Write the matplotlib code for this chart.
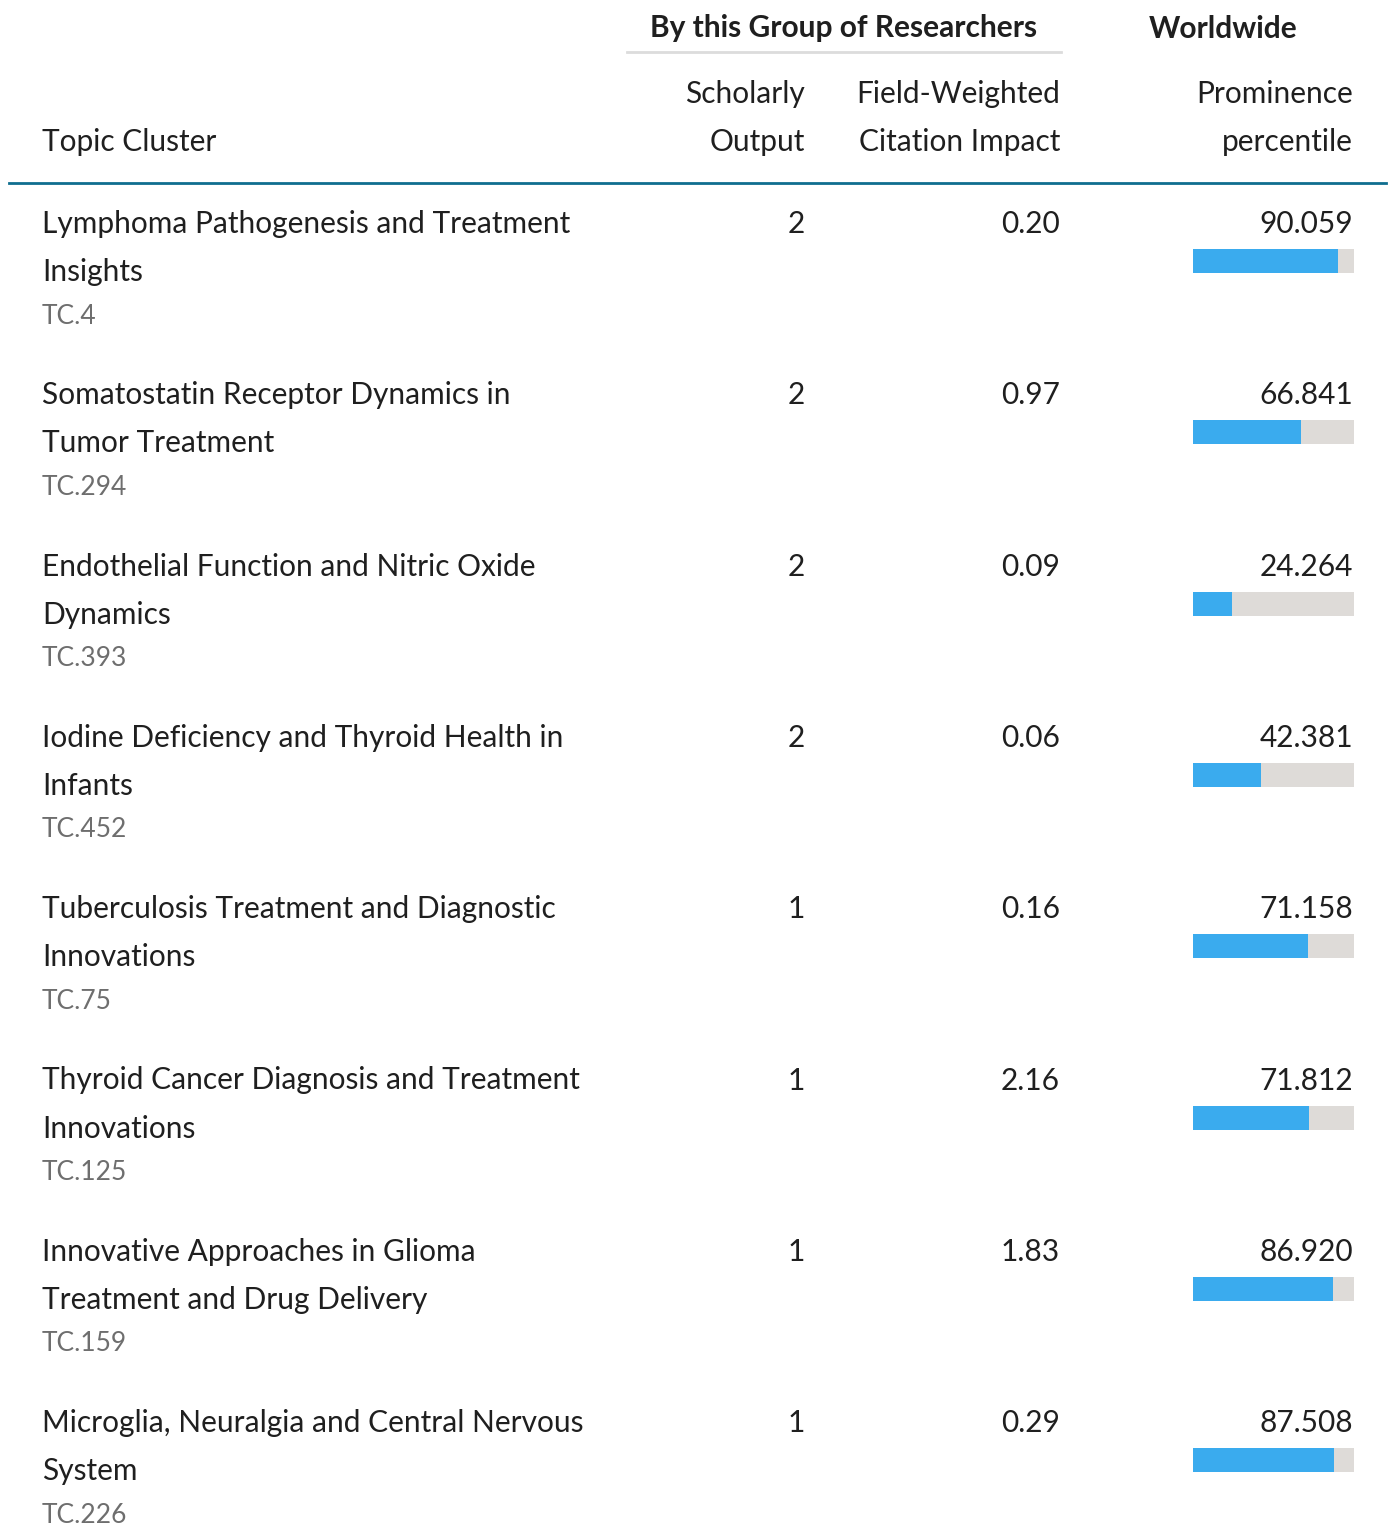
import matplotlib.pyplot as plt
from matplotlib.patches import Rectangle

plt.rcParams['font.family'] = ['Lato', 'DejaVu Sans']

topics = [
    'Lymphoma Pathogenesis and Treatment\nInsights',
    'Somatostatin Receptor Dynamics in\nTumor Treatment',
    'Endothelial Function and Nitric Oxide\nDynamics',
    'Iodine Deficiency and Thyroid Health in\nInfants',
    'Tuberculosis Treatment and Diagnostic\nInnovations',
    'Thyroid Cancer Diagnosis and Treatment\nInnovations',
    'Innovative Approaches in Glioma\nTreatment and Drug Delivery',
    'Microglia, Neuralgia and Central Nervous\nSystem',
]
codes = ['TC.4', 'TC.294', 'TC.393', 'TC.452', 'TC.75', 'TC.125', 'TC.159', 'TC.226']
output = [2, 2, 2, 2, 1, 1, 1, 1]
fwci = [0.20, 0.97, 0.09, 0.06, 0.16, 2.16, 1.83, 0.29]
prominence = [90.059, 66.841, 24.264, 42.381, 71.158, 71.812, 86.920, 87.508]

W, H = 1388, 1526
fig = plt.figure(figsize=(W / 100, H / 100), dpi=100)
ax = fig.add_axes([0, 0, 1, 1])
ax.set_xlim(0, W)
ax.set_ylim(H, 0)
ax.axis('off')

fs = 21.5
dark = '#1f1f1f'
grey = '#6e6e6e'

# header
ax.text(844, 28, 'By this Group of Researchers', fontsize=fs, fontweight='bold',
        ha='center', va='center', color=dark)
ax.plot([627, 1061], [52, 52], color='#dcdcdc', lw=2)
ax.text(1223, 29, 'Worldwide', fontsize=fs, fontweight='bold', ha='center', va='center', color=dark)
ax.text(42, 142, 'Topic Cluster', fontsize=fs, ha='left', va='center', color=dark)
for x, (l1, l2) in zip([805, 1060, 1353],
                       [('Scholarly', 'Output'), ('Field-Weighted', 'Citation Impact'),
                        ('Prominence', 'percentile')]):
    ax.text(x, 94, l1, fontsize=fs, ha='right', va='center', color=dark)
    ax.text(x, 142, l2, fontsize=fs, ha='right', va='center', color=dark)
ax.plot([9, 1386], [183, 183], color='#0f6e8f', lw=2)

# rows
bar_x, bar_w, bar_h = 1193, 161, 24
for i in range(len(topics)):
    y = 224 + i * 171.3
    lines = topics[i].split('\n')
    ax.text(42, y, lines[0], fontsize=fs, ha='left', va='center', color=dark)
    ax.text(42, y + 48, lines[1], fontsize=fs, ha='left', va='center', color=dark)
    ax.text(42, y + 92, codes[i], fontsize=19, ha='left', va='center', color=grey)
    ax.text(805, y, str(output[i]), fontsize=fs, ha='right', va='center', color=dark)
    ax.text(1060, y, f'{fwci[i]:.2f}', fontsize=fs, ha='right', va='center', color=dark)
    ax.text(1353, y, f'{prominence[i]:.3f}', fontsize=fs, ha='right', va='center', color=dark)
    ax.add_patch(Rectangle((bar_x, y + 25), bar_w, bar_h, color='#dedbd8', lw=0))
    ax.add_patch(Rectangle((bar_x, y + 25), bar_w * prominence[i] / 100, bar_h,
                           color='#3aabee', lw=0))

fig.savefig('out.png', dpi=100)
